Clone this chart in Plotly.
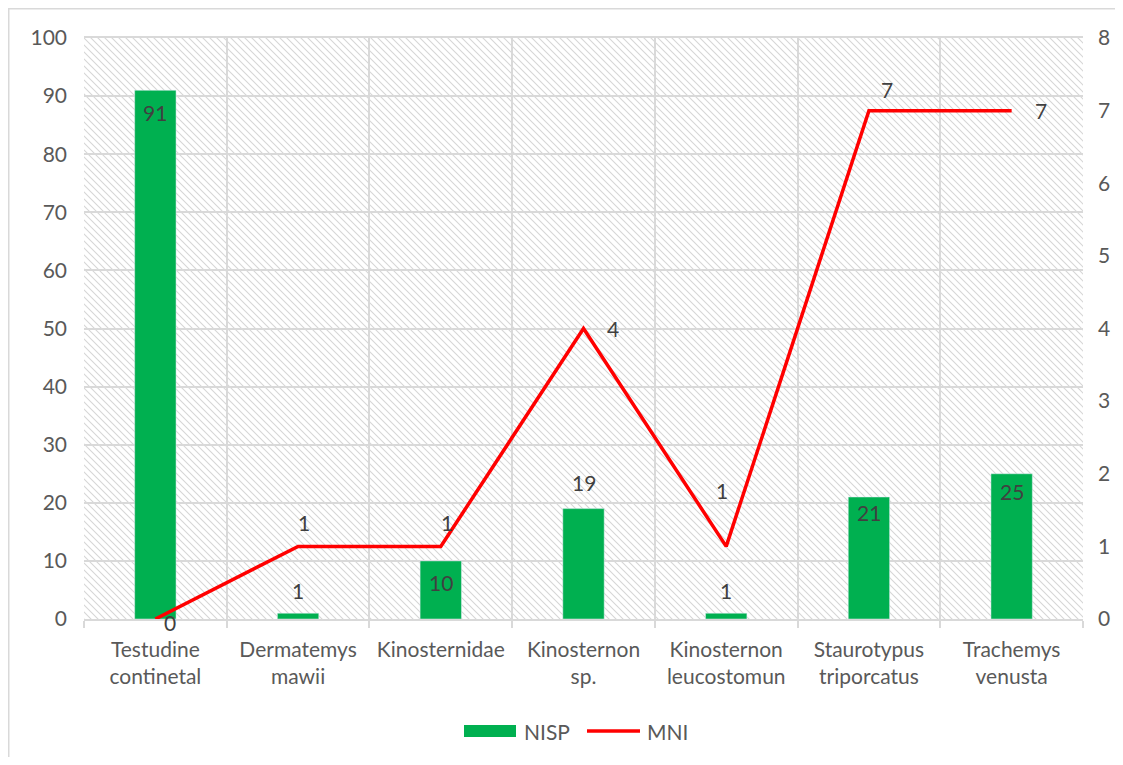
import plotly.graph_objects as go
import base64

categories = ["Testudine<br>continetal", "Dermatemys<br>mawii", "Kinosternidae",
              "Kinosternon<br>sp.", "Kinosternon<br>leucostomun", "Staurotypus<br>triporcatus",
              "Trachemys<br>venusta"]
nisp = [91, 1, 10, 19, 1, 21, 25]
mni = [0, 1, 1, 4, 1, 7, 7]

FONT = "Lato"
FS = 21
TXT = "#595959"
LBL = "#404040"
GRID = "#D9D9D9"

# page has an 8px body margin; figure is sized/offset to compensate
FW, FH = 1107, 749
ML, MR, MT, MB = 76, 32, 30, 138
PW, PH = FW - ML - MR, FH - MT - MB

def px_x(x):  # figure pixel -> paper x
    return (x - ML) / PW

def px_y(y):  # figure pixel (from top) -> paper y
    return (FH - MB - y) / PH

# hatch background pattern (style only)
svg = (f'<svg xmlns="http://www.w3.org/2000/svg" width="{PW}" height="{PH}" viewBox="0 0 {PW} {PH}" preserveAspectRatio="none">'
       '<defs><pattern id="p" width="7" height="7" patternUnits="userSpaceOnUse">'
       '<path d="M-1,-1 L8,8 M-1,6 L1,8 M6,-1 L8,1" stroke="#D6D6D6" stroke-width="1.1"/></pattern></defs>'
       f'<rect width="{PW}" height="{PH}" fill="white"/><rect width="{PW}" height="{PH}" fill="url(#p)"/></svg>')
uri = "data:image/svg+xml;base64," + base64.b64encode(svg.encode()).decode()

fig = go.Figure()
fig.add_trace(go.Bar(
    x=categories, y=nisp, name="NISP", marker_color="#00B050", width=0.29,
    showlegend=False,
))
fig.add_trace(go.Scatter(
    x=categories, y=mni, name="MNI", yaxis="y2", mode="lines",
    line=dict(color="#FF0000", width=3.5), cliponaxis=False,
    showlegend=False,
))

annotations = []
bar_shift = [-22, 23, -22, 26, 23, -16, -18]
for c, v, s in zip(categories, nisp, bar_shift):
    annotations.append(dict(x=c, y=v, xref="x", yref="y", text=str(v), showarrow=False,
                            yshift=s, font=dict(family=FONT, size=FS, color=LBL)))
line_shift = [(15, -3), (6, 24), (6, 24), (29, 0), (-4, 56), (18, 21), (29, 0)]
for c, v, (dx, dy) in zip(categories, mni, line_shift):
    annotations.append(dict(x=c, y=v, xref="x", yref="y2", text=str(v), showarrow=False,
                            xshift=dx, yshift=dy, font=dict(family=FONT, size=FS, color=LBL)))

# manual legend (ref coords minus 8px page offset)
annotations += [
    dict(x=px_x(514), y=px_y(723), xref="paper", yref="paper", text="NISP", showarrow=False,
         xanchor="left", yanchor="middle", font=dict(family=FONT, size=FS, color=TXT)),
    dict(x=px_x(637), y=px_y(723), xref="paper", yref="paper", text="MNI", showarrow=False,
         xanchor="left", yanchor="middle", font=dict(family=FONT, size=FS, color=TXT)),
]
shapes = [
    dict(type="rect", xref="paper", yref="paper", x0=px_x(456), x1=px_x(508),
         y0=px_y(729), y1=px_y(717), fillcolor="#00B050", line=dict(width=0)),
    dict(type="line", xref="paper", yref="paper", x0=px_x(579), x1=px_x(632),
         y0=px_y(723), y1=px_y(723), line=dict(color="#FF0000", width=3.5)),
    dict(type="rect", xref="paper", yref="paper", x0=px_x(0.75), y0=px_y(FH + 40),
         x1=px_x(FW + 40), y1=px_y(0.75), line=dict(color=GRID, width=1.5), layer="below"),
]

fig.update_layout(
    width=FW, height=FH,
    margin=dict(l=ML, r=MR, t=MT, b=MB, autoexpand=False),
    paper_bgcolor="white", plot_bgcolor="rgba(0,0,0,0)",
    font=dict(family=FONT, size=FS, color=TXT),
    showlegend=False,
    images=[dict(source=uri, xref="paper", yref="paper", x=0, y=1, sizex=1, sizey=1,
                 sizing="stretch", layer="below", xanchor="left", yanchor="top")],
    xaxis=dict(tickson="boundaries", showgrid=True, gridcolor=GRID, gridwidth=1.5,
               ticks="outside", ticklen=7, tickcolor=GRID, tickwidth=1.5, tickangle=0,
               ticklabelstandoff=11,
               showline=True, linecolor=GRID, linewidth=1.5, mirror=True,
               tickfont=dict(family=FONT, size=FS, color=TXT), automargin=False),
    yaxis=dict(range=[0, 100], dtick=10, showgrid=True, gridcolor=GRID, gridwidth=1.5,
               zeroline=False, ticks="", ticklabelstandoff=16, automargin=False,
               tickfont=dict(family=FONT, size=FS, color=TXT)),
    yaxis2=dict(range=[0, 8], dtick=1, overlaying="y", side="right", showgrid=False,
                zeroline=False, ticks="", ticklabelstandoff=14, automargin=False,
                tickfont=dict(family=FONT, size=FS, color=TXT)),
    annotations=annotations,
    shapes=shapes,
)

fig.write_html("out.html")
